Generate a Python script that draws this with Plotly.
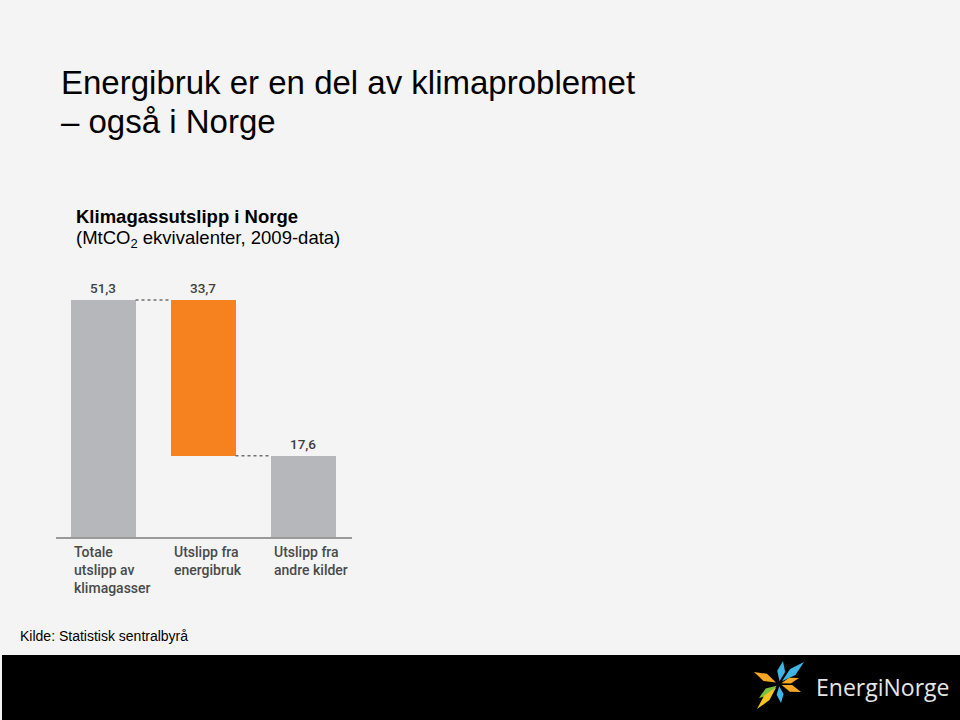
import plotly.graph_objects as go

# ---- data ----
categories = ["Totale<br>utslipp av<br>klimagasser", "Utslipp fra<br>energibruk", "Utslipp fra<br>andre kilder"]
values = [51.3, 33.7, 17.6]          # MtCO2-ekv.
bases = [0.0, 17.6, 0.0]             # waterfall base of each bar
bar_colors = ["#b5b7bb", "#f5821f", "#b5b7bb"]

W, H = 960, 720
L, R, T, B = 56, 352, 280, 537       # plot area in pixels
BW = 0.65


def px(x):
    return (x - L) / (R - L)


def py(y):
    return (B - y) / (B - T)


xs = list(range(len(values)))
tops = [b + v for b, v in zip(bases, values)]

fig = go.Figure()
fig.add_trace(go.Bar(
    x=xs, y=values, base=bases, width=BW,
    marker=dict(color=bar_colors, line=dict(width=0)),
    hoverinfo="skip",
))

# dotted connectors between bars (derived from data)
for i in range(len(values) - 1):
    level = tops[i] if i == 0 else bases[i]
    fig.add_shape(type="line", xref="x", yref="y",
                  x0=xs[i] + BW / 2, x1=xs[i + 1] - BW / 2, y0=level, y1=level,
                  line=dict(color="#6f6f6f", width=1.5, dash="dot"))

# value labels
for i, (t, v) in enumerate(zip(tops, values)):
    fig.add_annotation(x=xs[i], y=t, xref="x", yref="y", yanchor="bottom", yshift=2,
                       text=f"{v:.1f}".replace(".", ","), showarrow=False,
                       font=dict(family="Roboto", size=13.5, color="#3f3f3f", weight=500))

# category labels
for i, c in enumerate(categories):
    fig.add_annotation(x=xs[i] - BW / 2, y=0, xref="x", yref="paper",
                       xanchor="left", yanchor="top", align="left", yshift=-5, xshift=1,
                       text=c, showarrow=False,
                       font=dict(family="Roboto", size=14, color="#4a4a4a", weight=500))

# titles
TF = "Liberation Sans, Arial"
fig.add_annotation(x=px(59), y=py(82), xref="paper", yref="paper", xanchor="left", yanchor="middle",
                   text="Energibruk er en del av klimaproblemet", showarrow=False,
                   font=dict(family=TF, size=33, color="#000000"))
fig.add_annotation(x=px(59), y=py(121), xref="paper", yref="paper", xanchor="left", yanchor="middle",
                   text="\u2013 også i Norge", showarrow=False,
                   font=dict(family=TF, size=33, color="#000000"))
fig.add_annotation(x=px(74), y=py(216), xref="paper", yref="paper", xanchor="left", yanchor="middle",
                   text="<b>Klimagassutslipp i Norge</b>", showarrow=False,
                   font=dict(family=TF, size=18.5, color="#000000"))
fig.add_annotation(x=px(74), y=py(239), xref="paper", yref="paper", xanchor="left", yanchor="middle",
                   text="(MtCO<sub>2</sub> ekvivalenter, 2009-data)", showarrow=False,
                   font=dict(family=TF, size=18.5, color="#000000"))
fig.add_annotation(x=px(18), y=py(636), xref="paper", yref="paper", xanchor="left", yanchor="middle",
                   text="Kilde: Statistisk sentralbyrå", showarrow=False,
                   font=dict(family=TF, size=14, color="#000000"))

# footer band
fig.add_shape(type="rect", xref="paper", yref="paper", x0=px(2), x1=px(960), y0=py(655), y1=py(720),
              fillcolor="#000000", line=dict(width=0), layer="below")

# logo rays
cx, cy = 779, 684
rays = [
    ((783, 661), "#3fb5e5", 4), ((804, 662), "#3fb5e5", 4), ((781, 703), "#3fb5e5", 3.5),
    ((754, 672), "#f5a623", 4), ((801, 692), "#f5a623", 3.5), ((799, 678), "#f5a623", 3),
    ((759, 698), "#7cc242", 4), ((757, 709), "#f7c41f", 3.5),
]
for (tx, ty), col, w in rays:
    dx, dy = tx - cx, ty - cy
    n = (dx * dx + dy * dy) ** 0.5
    ox, oy = -dy / n * w, dx / n * w
    mx, my = cx + dx * 0.55, cy + dy * 0.55
    pts = [(cx + dx * 0.12, cy + dy * 0.12), (mx + ox, my + oy), (tx, ty), (mx - ox, my - oy)]
    path = "M " + " L ".join(f"{px(a):.5f},{py(b):.5f}" for a, b in pts) + " Z"
    fig.add_shape(type="path", xref="paper", yref="paper", path=path,
                  fillcolor=col, line=dict(width=0))

fig.add_annotation(x=px(814), y=py(687), xref="paper", yref="paper", xanchor="left", yanchor="middle",
                   text="EnergiNorge", showarrow=False,
                   font=dict(family="Open Sans", size=23, color="#e6e6e6"))

fig.update_layout(
    width=W, height=H,
    margin=dict(l=L, r=W - R, t=T, b=H - B, pad=0),
    paper_bgcolor="#f4f4f4", plot_bgcolor="rgba(0,0,0,0)",
    showlegend=False,
    xaxis=dict(range=[-0.47, 2.49], showgrid=False, zeroline=False, showticklabels=False,
               showline=True, linecolor="#9a9a9a", linewidth=1.5, ticks="", fixedrange=True),
    yaxis=dict(range=[0, 51.3 * (B - T) / 237], visible=False, fixedrange=True),
    bargap=0,
)

fig.write_html("out.html")
